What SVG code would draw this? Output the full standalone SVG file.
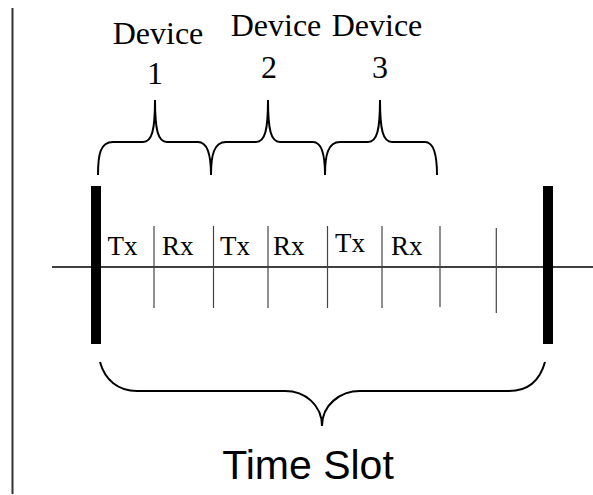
<svg xmlns="http://www.w3.org/2000/svg" width="593" height="495" viewBox="0 0 593 495">
<style>
.lbl{font-family:"Liberation Serif","Times New Roman",serif;fill:#000}
.dev{font-size:32px;text-anchor:middle}
.cell{font-size:27px}
.ts{font-family:"Liberation Sans",Arial,sans-serif;font-size:41px;text-anchor:middle;fill:#000}
.brace{fill:none;stroke:#000;stroke-width:2}
.div{stroke:#444;stroke-width:1.2}
.bar{fill:#000}
</style>
<rect width="593" height="495" fill="#fff"/>
<g id="frame-left"><line x1="12.5" y1="8" x2="12.5" y2="494" stroke="#333" stroke-width="2"/></g>
<g id="connectors">
<line x1="52" y1="267" x2="593" y2="267" stroke="#000" stroke-width="1.5"/>
<line class="div" x1="154" y1="226" x2="154" y2="308"/>
<line class="div" x1="213.5" y1="226" x2="213.5" y2="308"/>
<line class="div" x1="268" y1="226" x2="268" y2="308"/>
<line class="div" x1="327.5" y1="226" x2="327.5" y2="308"/>
<line class="div" x1="382" y1="226" x2="382" y2="308"/>
<line class="div" x1="440" y1="226" x2="440" y2="307"/>
<line class="div" x1="496.3" y1="228" x2="496.3" y2="313"/>
</g>
<g id="slot-start"><rect class="bar" x="91" y="186" width="10" height="158"/></g>
<g id="slot-end"><rect class="bar" x="543" y="186" width="10" height="158"/></g>
<g id="device1">
<path class="brace" d="M98,175 C98,155 100,142 113,142 L143,142 C152,142 155,130 155,100 C155,130 158,142 167,142 L198,142 C208,142 211,155 211,175"/>
<text class="lbl dev" x="158" y="44">Device</text>
<text class="lbl dev" x="155" y="84">1</text>
</g>
<g id="device2">
<path class="brace" d="M211,175 C211,155 214,142 226,142 L256,142 C265,142 268,130 268,100 C268,130 271,142 280,142 L313,142 C322,142 325,155 325,175"/>
<text class="lbl dev" x="276" y="36">Device</text>
<text class="lbl dev" x="269" y="78">2</text>
</g>
<g id="device3">
<path class="brace" d="M325,175 C325,155 328,142 340,142 L368,142 C377,142 380,130 380,100 C380,130 383,142 392,142 L425,142 C434,142 437,155 437,175"/>
<text class="lbl dev" x="377" y="36">Device</text>
<text class="lbl dev" x="380" y="78">3</text>
</g>
<g id="cells">
<text class="lbl cell" x="107.5" y="255">Tx</text>
<text class="lbl cell" x="162" y="255">Rx</text>
<text class="lbl cell" x="220" y="255">Tx</text>
<text class="lbl cell" x="273" y="255">Rx</text>
<text class="lbl cell" x="335" y="252">Tx</text>
<text class="lbl cell" x="391" y="255">Rx</text>
</g>
<g id="timeslot">
<path class="brace" d="M100,362 C105,380 118,391 137,391 L285,391 C305,391 322,405 322,426 C322,405 340,391 360,391 L509,391 C528,391 540,380 545,362"/>
<text class="ts" x="308" y="479">Time Slot</text>
</g>
</svg>
